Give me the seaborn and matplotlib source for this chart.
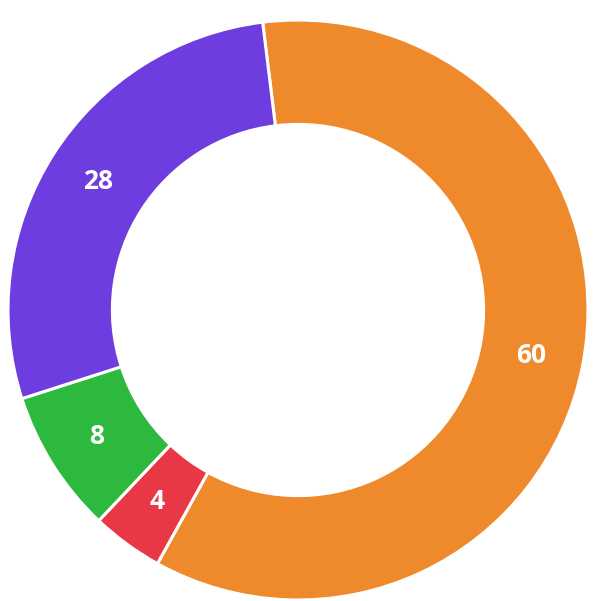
import matplotlib
matplotlib.use("Agg")
import matplotlib.pyplot as plt
import seaborn as sns

# data (clockwise from the top)
categories = ["Orange", "Red", "Green", "Purple"]
values = [60, 4, 8, 28]
colors = ["#EF8A2C", "#E83846", "#2DB83E", "#6E3DDF"]

sns.set_theme(style="white")
plt.rcParams['font.family'] = ['Open Sans', 'DejaVu Sans']

fig = plt.figure(figsize=(6.16, 6.01), dpi=100)
ax = fig.add_axes([0, 0, 1, 1])

palette = sns.color_palette(colors)
wedges, texts, autotexts = ax.pie(
    values,
    colors=palette,
    startangle=97,
    counterclock=False,
    radius=1.0,
    wedgeprops=dict(width=0.36, edgecolor="white", linewidth=2.2),
    autopct=lambda p: f"{p * sum(values) / 100:.0f}",
    pctdistance=0.82,
    textprops=dict(color="white", fontsize=19, fontweight="bold"),
)

# circle centre sits at about (298, 310) px with radius 290 px
ax.set_xlim(-298 / 290, 318 / 290)
ax.set_ylim(-291 / 290, 310 / 290)
ax.set_aspect("equal")
ax.axis("off")

fig.savefig("out.png", dpi=100, facecolor="white")
